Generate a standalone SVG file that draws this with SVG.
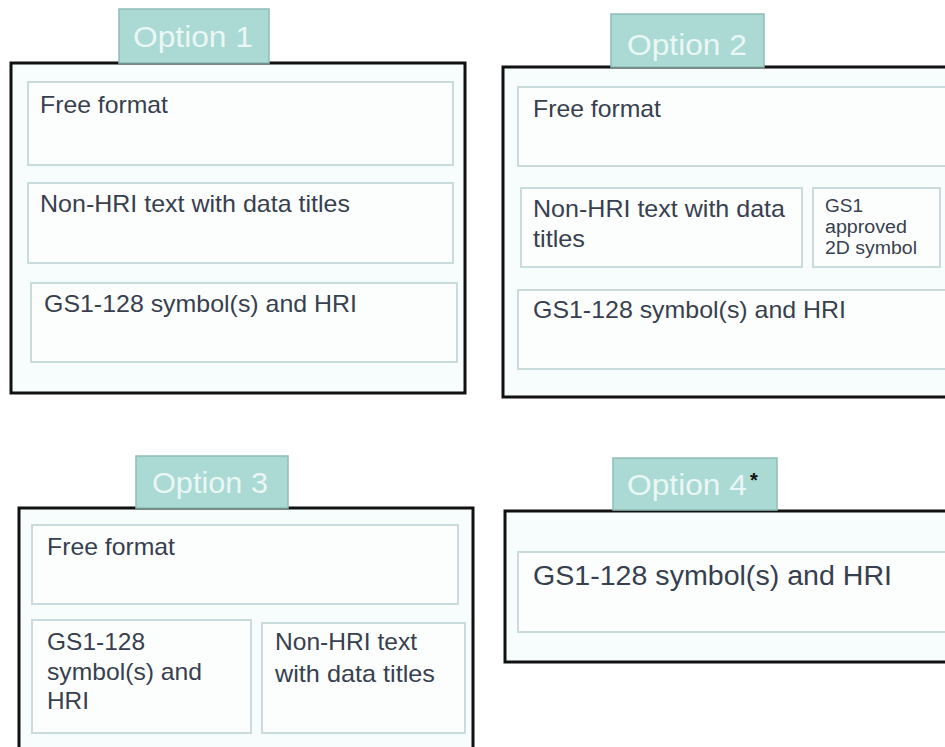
<svg xmlns="http://www.w3.org/2000/svg" width="945" height="747" viewBox="0 0 945 747">
<style>
.bg{fill:#ffffff}
.tab{fill:#abd9d4;stroke:#8fbdb8;stroke-width:1.5}
.tabt{font-family:"Liberation Sans",Arial,sans-serif;font-size:30px;fill:#e9f7f5}
.outer{fill:#f7fcfc;stroke:#111111;stroke-width:3}
.inner{fill:#fcfefe;stroke:#c9dcdb;stroke-width:2}
.t{font-family:"Liberation Sans",Arial,sans-serif;font-size:24px;fill:#383f4e}
.s{font-family:"Liberation Sans",Arial,sans-serif;font-size:18px;fill:#383f4e}
.l{font-family:"Liberation Sans",Arial,sans-serif;font-size:27px;fill:#383f4e}
</style>
<rect class="bg" x="0" y="0" width="945" height="747"/>

<g id="option1">
  <rect class="outer" x="11" y="63" width="454" height="330"/>
  <rect class="tab" x="119" y="9" width="150" height="54"/>
  <text class="tabt" x="133" y="47" textLength="120" lengthAdjust="spacingAndGlyphs">Option 1</text>
</g>
<g id="opt1-free">
  <rect class="inner" x="28" y="82" width="425" height="83"/>
  <text class="t" x="40" y="113" textLength="128" lengthAdjust="spacingAndGlyphs">Free format</text>
</g>
<g id="opt1-nonhri">
  <rect class="inner" x="28" y="183" width="425" height="80"/>
  <text class="t" x="40" y="212" textLength="310" lengthAdjust="spacingAndGlyphs">Non-HRI text with data titles</text>
</g>
<g id="opt1-gs1">
  <rect class="inner" x="31" y="283" width="426" height="79"/>
  <text class="t" x="44" y="312" textLength="313" lengthAdjust="spacingAndGlyphs">GS1-128 symbol(s) and HRI</text>
</g>

<g id="option2">
  <rect class="outer" x="503" y="67" width="450" height="330"/>
  <rect class="tab" x="611" y="14" width="153" height="53"/>
  <text class="tabt" x="627" y="55" textLength="120" lengthAdjust="spacingAndGlyphs">Option 2</text>
</g>
<g id="opt2-free">
  <rect class="inner" x="518" y="87" width="435" height="79"/>
  <text class="t" x="533" y="117" textLength="128" lengthAdjust="spacingAndGlyphs">Free format</text>
</g>
<g id="opt2-nonhri">
  <rect class="inner" x="521" y="188" width="281" height="79"/>
  <text class="t" x="533" y="217" textLength="252" lengthAdjust="spacingAndGlyphs">Non-HRI text with data</text>
  <text class="t" x="533" y="247" textLength="52" lengthAdjust="spacingAndGlyphs">titles</text>
</g>
<g id="opt2-2d">
  <rect class="inner" x="813" y="188" width="127" height="79"/>
  <text class="s" x="825" y="212" textLength="38" lengthAdjust="spacingAndGlyphs">GS1</text>
  <text class="s" x="825" y="233" textLength="82" lengthAdjust="spacingAndGlyphs">approved</text>
  <text class="s" x="825" y="254" textLength="92" lengthAdjust="spacingAndGlyphs">2D symbol</text>
</g>
<g id="opt2-gs1">
  <rect class="inner" x="518" y="290" width="435" height="79"/>
  <text class="t" x="533" y="318" textLength="313" lengthAdjust="spacingAndGlyphs">GS1-128 symbol(s) and HRI</text>
</g>

<g id="option3">
  <rect class="outer" x="19" y="508" width="454" height="250"/>
  <rect class="tab" x="136" y="456" width="152" height="52"/>
  <text class="tabt" x="152" y="493" textLength="116" lengthAdjust="spacingAndGlyphs">Option 3</text>
</g>
<g id="opt3-free">
  <rect class="inner" x="32" y="525" width="426" height="79"/>
  <text class="t" x="47" y="555" textLength="128" lengthAdjust="spacingAndGlyphs">Free format</text>
</g>
<g id="opt3-gs1">
  <rect class="inner" x="32" y="620" width="219" height="113"/>
  <text class="t" x="47" y="650" textLength="98" lengthAdjust="spacingAndGlyphs">GS1-128</text>
  <text class="t" x="47" y="680" textLength="155" lengthAdjust="spacingAndGlyphs">symbol(s) and</text>
  <text class="t" x="47" y="709" textLength="42" lengthAdjust="spacingAndGlyphs">HRI</text>
</g>
<g id="opt3-nonhri">
  <rect class="inner" x="262" y="623" width="203" height="110"/>
  <text class="t" x="275" y="650" textLength="142" lengthAdjust="spacingAndGlyphs">Non-HRI text</text>
  <text class="t" x="275" y="682" textLength="160" lengthAdjust="spacingAndGlyphs">with data titles</text>
</g>

<g id="option4">
  <rect class="outer" x="505" y="511" width="450" height="151"/>
  <rect class="tab" x="613" y="458" width="164" height="52"/>
  <text class="tabt" x="627" y="495" textLength="120" lengthAdjust="spacingAndGlyphs">Option 4</text>
  <text x="750" y="487" font-family="Liberation Sans, Arial, sans-serif" font-size="20" font-weight="bold" fill="#111111">*</text>
</g>
<g id="opt4-gs1">
  <rect class="inner" x="518" y="552" width="437" height="80"/>
  <text class="l" x="533" y="585" textLength="359" lengthAdjust="spacingAndGlyphs">GS1-128 symbol(s) and HRI</text>
</g>

<g id="connectors"/>
</svg>
